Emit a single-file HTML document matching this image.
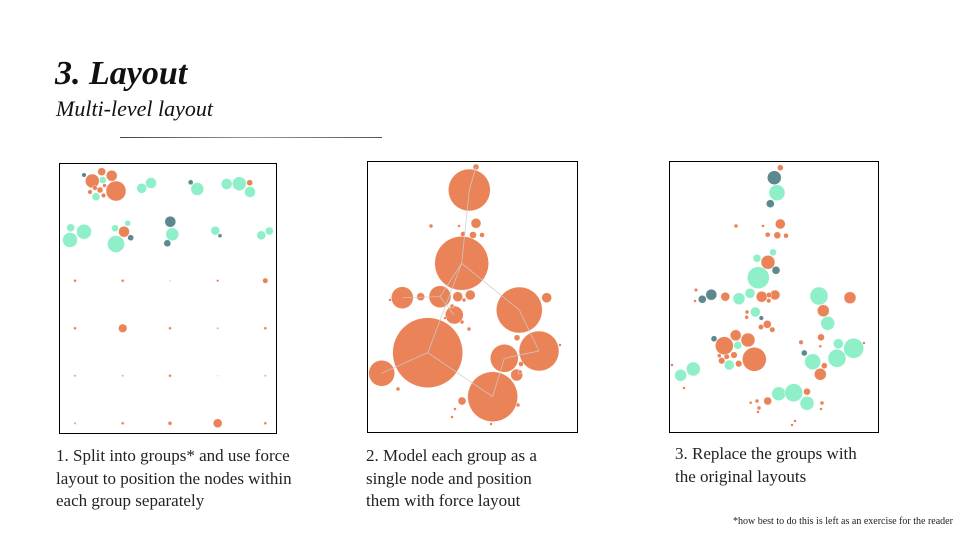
<!DOCTYPE html>
<html><head><meta charset="utf-8"><style>
body{margin:0;width:960px;height:540px;background:#fff;overflow:hidden;position:relative;font-family:"Liberation Serif",serif;color:#111}
.t{position:absolute;white-space:nowrap}
.cap{position:absolute;font-size:17px;line-height:22.5px;color:#222}
svg{position:absolute;left:0;top:0}
</style></head><body>
<div class="t" style="left:55px;top:55px;font-size:34px;font-weight:bold;font-style:italic">3. Layout</div>
<div class="t" style="left:56px;top:96px;font-size:22px;font-style:italic">Multi-level layout</div>
<div style="position:absolute;left:120px;top:137px;width:262px;height:1px;background:linear-gradient(90deg,#444,#999,#555)"></div>
<div class="cap" style="left:56px;top:445px">1. Split into groups* and use force<br>layout to position the nodes within<br>each group separately</div>
<div class="cap" style="left:366px;top:445px">2. Model each group as a<br>single node and position<br>them with force layout</div>
<div class="cap" style="left:675px;top:443px">3. Replace the groups with<br>the original layouts</div>
<div class="t" style="left:733px;top:516px;font-size:10px;color:#222">*how best to do this is left as an exercise for the reader</div>
<svg id="s" width="960" height="540">
<rect x="59.5" y="163.5" width="217" height="270" fill="#fff" stroke="#000" stroke-width="1"/>
<rect x="367.5" y="161.5" width="210" height="271" fill="#fff" stroke="#000" stroke-width="1"/>
<rect x="669.5" y="161.5" width="209" height="271" fill="#fff" stroke="#000" stroke-width="1"/>
</svg>
<script>
const O='#E8784A',T='#86EEC4',D='#4E7F83';
const panel1Nodes=[[84,175,2.3,D],[92.3,181,7,O],[101.7,171.7,4,O],[111.7,175.7,5.5,O],[116,191,10,O],[102.7,180,3.5,T],[96,196.7,4,T],[90,192,2.3,O],[100,190,3,O],[104.5,185.5,2,O],[103.5,195.5,2.3,O],[95,188,2.3,O],
[141.7,188.3,5,T],[151,183,5.5,T],[190.7,182.3,2.5,D],[197.3,189,6.5,T],[226.7,184,5.5,T],[239.3,183.7,7,T],[249.7,182.7,3,O],[250,192,5.5,T],
[70.7,227.7,4,T],[84,231.7,7.5,T],[70,240,7.5,T],[115,228.3,3.5,T],[127.7,223.3,3,T],[124,231.7,5.5,O],[130.7,237.7,3,D],[116,244,8.5,T],
[170.3,221.7,5.5,D],[172.3,234.3,6.5,T],[167.3,243.3,3.5,D],[215.3,230.7,4.5,T],[220,235.7,2,D],[261.3,235.3,4.5,T],[269.3,231,4,T],
[75,280.7,1.5,O],[122.7,280.7,1.5,O],[170,280.7,1,'#f4c0a8'],[217.7,280.7,1.3,O],[265.3,280.7,2.7,O],
[75,328.3,1.5,O],[122.7,328.3,4.3,O],[170,328.3,1.5,O],[217.7,328.3,1.2,'#f4a080'],[265.3,328.3,1.5,O],
[75,375.7,1.3,'#f4a080'],[122.7,375.7,1.2,'#f4a080'],[170,375.7,1.5,O],[217.7,375.7,1,'#f8d0c0'],[265.3,375.7,1.2,'#f4a080'],
[75,423.3,1.3,'#f4a080'],[122.7,423.3,1.5,O],[170,423.3,2,O],[217.7,423.3,4.5,O],[265.3,423.3,1.5,O]];
const panel2Nodes=[[469.3,190,21,O],[461.7,263.3,27,O],[427.7,352.7,35,O],[519.3,310,23,O],[539,351,20,O],[492.7,396.7,25,O],[504.3,358.3,14,O],[381.7,373.3,13,O],[402.3,297.7,11,O],[440,296.7,11,O],[454.3,315,9,O],[420.7,296.7,4,O],[546.7,297.7,5,O],[476,223.3,5,O],[457.7,296.7,5,O],[470.3,295,5,O],[516.7,375,6,O],[473,235,3.5,O],[482,235,2.5,O],[463,234,2.5,O],[517,337.7,3,O],[476,167,3,O],[431,226,2,O],[459,226,1.5,O],[390,300,1.5,O],[452,306,2,O],[464,300,2,O],[445,318,1.5,O],[462,322,2,O],[469,329,2,O],[521,364,2.5,O],[520,372,2,O],[398,389,2,O],[462,401,4,O],[455,409,1.5,O],[452,417,1.5,O],[518,405,2,O],[491,424,1.5,O],[560,345,1.5,O]];
const panel2Links=[[0,1],[1,2],[1,3],[2,5],[5,6],[6,4],[3,4],[2,7],[1,9],[8,9],[9,10],[0,21]];
const panel3Nodes=[[774.3,177.7,7,D],[777,192.7,8,T],[770.3,203.7,4,D],[780.3,167.7,3,O],[780.3,224,5,O],[777.3,235.3,3.5,O],[786,235.7,2.5,O],[767.7,234.7,2.5,O],[736,226,2,O],[763,226,1.5,O],
[757,258.3,4,T],[773,252.3,3.5,T],[768,262.3,7,O],[776,270.3,4,D],[758.3,277.7,11,T],[711.3,294.7,5.5,D],[702.3,299.3,4,D],[725.3,296.7,4.5,O],[739,298.7,6,T],[750,293.3,5,T],[761.7,296.7,5.5,O],[775,295,5,O],[769,295,2.7,O],[768.7,300.7,2.3,O],[696,290,1.8,O],[695,301,1.5,O],
[819,296,9,T],[850,297.7,6,O],[823.3,310.7,6,O],[827.7,323.3,7,T],[755.3,312,5,T],[761.3,318,2.3,D],[747,312,2,O],[746.7,317.3,2,O],[767.3,324.3,4,O],[772.3,329.7,2.7,O],[761,327,2.7,O],
[821,337.3,3.5,O],[801,342.3,2.3,O],[820.3,346.3,1.5,O],[838.3,343.7,5,T],[853.7,348.3,10,T],[837,358.3,9,T],[812.7,361.7,8,T],[804.3,353,3,D],[824.3,365.7,3,O],[820.3,374.3,6,O],[864,343,1.5,O],
[724.3,345.7,9,O],[735.7,335.3,5.5,O],[748,340,7,O],[737.7,345.3,4,T],[754.3,359.3,12,O],[714,338.7,3,D],[729.3,365,5,T],[721.7,360.7,3.3,O],[734,355,3.3,O],[738.7,363.7,3.3,O],[726.7,356.7,2.7,O],[719.3,355.7,2,O],
[693.3,369,7,T],[680.7,375.3,6,T],[672,365,1.5,O],[684,388,1.5,O],[778.7,393.7,7,T],[793.7,392.7,9,T],[807,403.3,7,T],[807,391.7,3.5,O],[767.7,401,4,O],[757,401,2,O],[750.7,402.7,1.5,O],[759,408,2,O],[758,412,1.5,O],[822,403,2,O],[821,409,1.5,O],[795,421,1.5,O],[792,425,1.5,O]];
const s=document.getElementById('s');
const NS='http://www.w3.org/2000/svg';
function drawLinks(nodes,links,name){
  const g=document.createElementNS(NS,'g');
  
  
  links.forEach(l=>{
    const a=nodes[l[0]],b=nodes[l[1]];
    const ln=document.createElementNS(NS,'line');
    ln.setAttribute('x1',a[0]);ln.setAttribute('y1',a[1]);ln.setAttribute('x2',b[0]);ln.setAttribute('y2',b[1]);
    ln.setAttribute('stroke','#ccc');ln.setAttribute('stroke-width','0.7');
    
    
    g.appendChild(ln);
  });
  s.appendChild(g);
}
function draw(nodes,name){
  const g=document.createElementNS(NS,'g');
  
  
  nodes.forEach(n=>{
    const c=document.createElementNS(NS,'circle');
    c.setAttribute('cx',n[0]);c.setAttribute('cy',n[1]);c.setAttribute('r',n[2]);
    c.setAttribute('fill',n[3]);c.setAttribute('fill-opacity','0.92');c.setAttribute('stroke','#fff');c.setAttribute('stroke-width','0.4');
    
    
    g.appendChild(c);
  });
  s.appendChild(g);
}
draw(panel1Nodes,'panel-1-nodes');
draw(panel2Nodes,'panel-2-nodes');
drawLinks(panel2Nodes,panel2Links,'panel-2-links');
draw(panel3Nodes,'panel-3-nodes');
</script>
</body></html>
